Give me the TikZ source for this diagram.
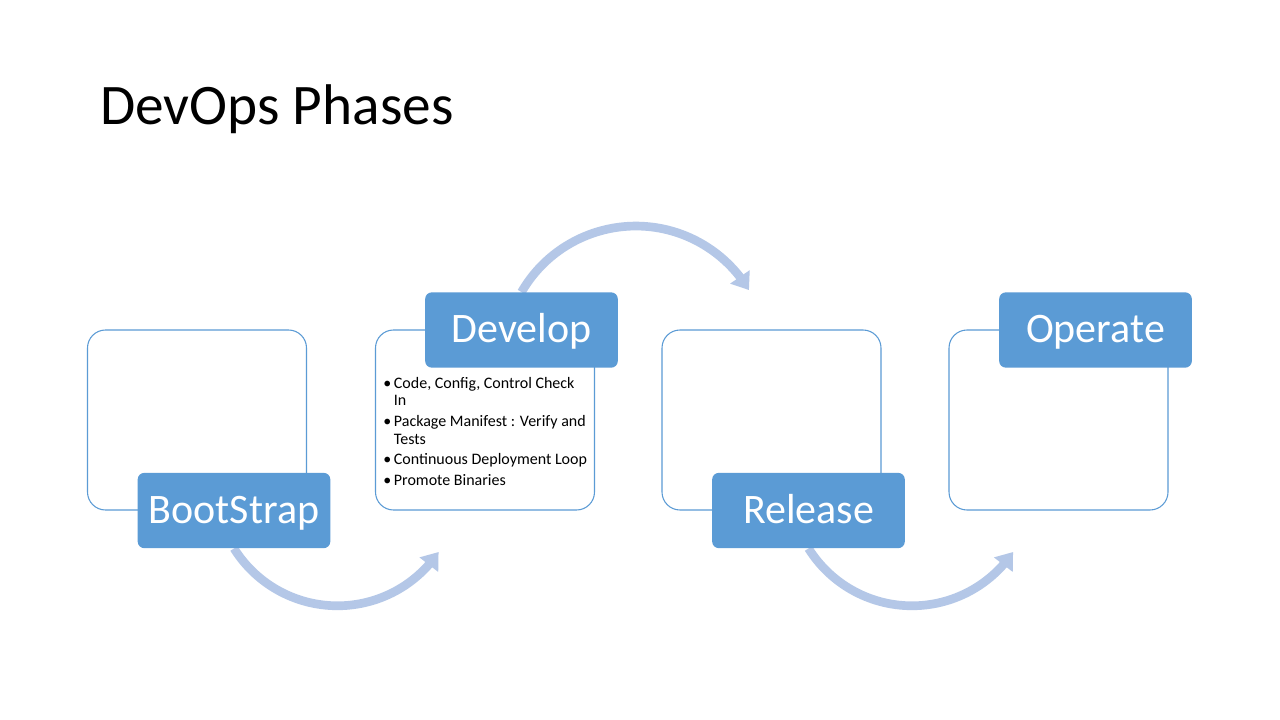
\documentclass[tikz,border=0pt]{standalone}
\usepackage{fontspec}
\setmainfont{Carlito}
\usetikzlibrary{arrows.meta,bending,backgrounds}
\definecolor{phaseblue}{HTML}{5B9BD5}
\definecolor{arrowblue}{HTML}{B4C7E7}
\begin{document}
\begin{tikzpicture}[x=0.75pt,y=-0.75pt,
  outline/.style={draw=phaseblue, line width=0.8pt, rounded corners=13.5pt, fill=white,
    minimum width=164.25pt, minimum height=135pt, inner sep=0pt},
  phase/.style={fill=phaseblue, rounded corners=5pt, text=white,
    font=\fontsize{31.5}{36}\selectfont, inner sep=0pt,
    minimum width=144.5pt, minimum height=56.5pt, text height=20.3pt, text depth=1.5pt},
  flow/.style={draw=arrowblue, line width=6.5pt, -{Triangle[width=17pt,length=12pt]}}]

\node[anchor=base west, inner sep=0pt, font=\fontsize{43}{50}\selectfont] (title) at (100,125) {DevOps Phases};

\node[outline] (box1) at (197,420) {};
\node[outline] (box2) at (485,420) {};
\node[outline] (box3) at (771.5,420) {};
\node[outline] (box4) at (1058.5,420) {};

\node[phase] (bs) at (234,510.5) {BootStrap};
\node[phase] (dev) at (521.5,330) {Develop};
\node[phase] (rel) at (808.5,510.5) {Release};
\node[phase] (op) at (1095.5,330) {Operate};

\node[anchor=base west, inner sep=0pt, font=\fontsize{12}{13.1}\selectfont] (devlist) at (383,388.5)
{\begin{tabular}[t]{@{}l@{}l@{}}
\makebox[8pt][l]{\textbullet} & Code, Config, Control Check\\
 & In\\[2.4pt]
\makebox[8pt][l]{\textbullet} & Package Manifest : Verify and\\
 & Tests\\[2.4pt]
\makebox[8pt][l]{\textbullet} & Continuous Deployment Loop\\[2.4pt]
\makebox[8pt][l]{\textbullet} & Promote Binaries
\end{tabular}};

\begin{scope}[on background layer]
\fill[white] (0,0) rectangle (1280,720);
\draw[flow] (bs.south) arc[start angle=148, end angle=34, radius=122];
\draw[flow] (dev.north) arc[start angle=-150, end angle=-31, radius=132];
\draw[flow] (rel.south) arc[start angle=148, end angle=34, radius=122];
\end{scope}
\end{tikzpicture}
\end{document}
